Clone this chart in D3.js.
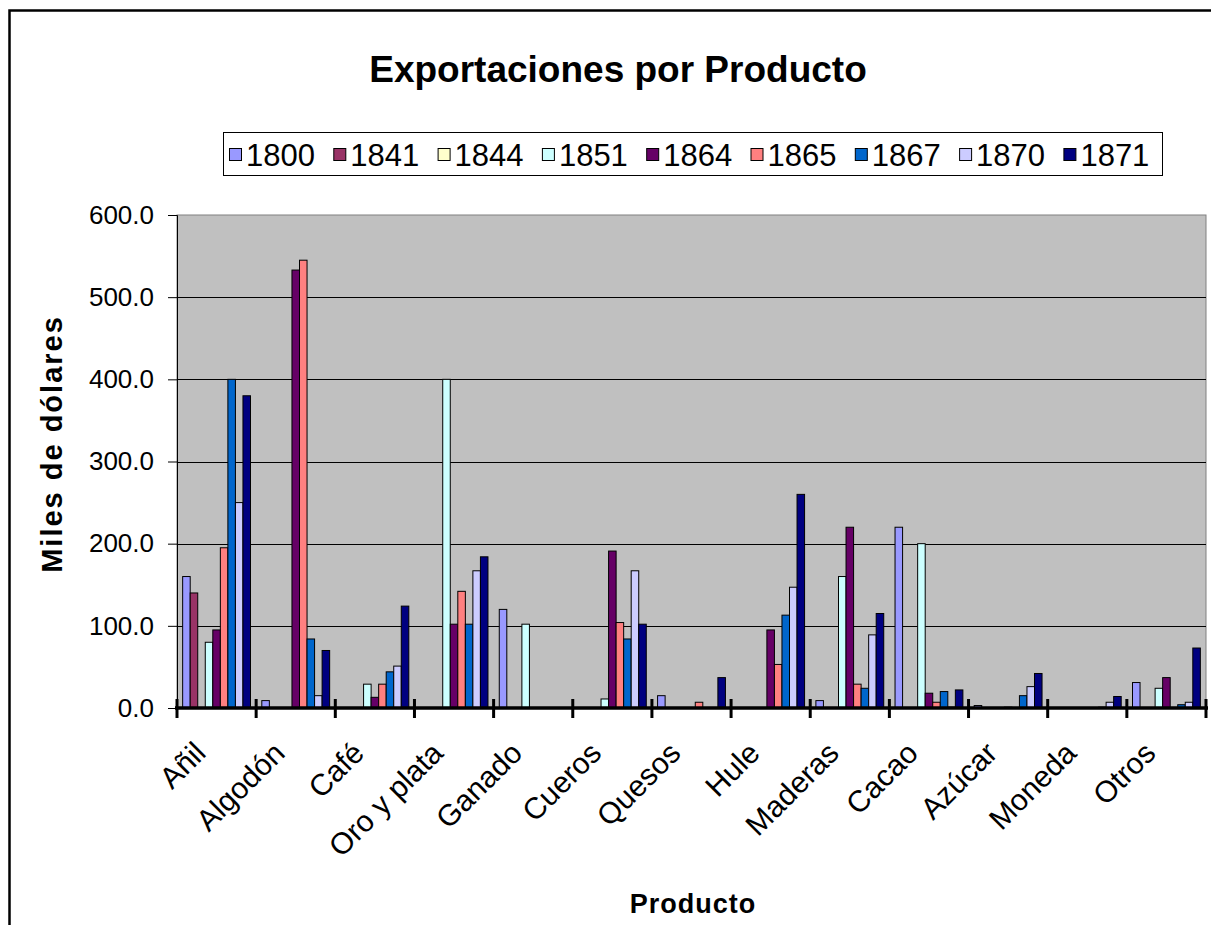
<!DOCTYPE html>
<html>
<head>
<meta charset="utf-8">
<script src="https://cdn.jsdelivr.net/npm/d3@7/dist/d3.min.js"></script>
<style>
  body { margin: 0; background: #fff; }
  text { font-family: Arial, "Liberation Sans", sans-serif; }
</style>
</head>
<body>
<div id="chart"></div>
<script>
const categories = ['Añil', 'Algodón', 'Café', 'Oro y plata', 'Ganado', 'Cueros', 'Quesos', 'Hule', 'Maderas', 'Cacao', 'Azúcar', 'Moneda', 'Otros']
const years = ['1800', '1841', '1844', '1851', '1864', '1865', '1867', '1870', '1871']

const v1800 = [160, 9, 0, 0, 120, 0, 15, 0, 9, 220, 3, 0, 31]
const v1841 = [140, 0, 0, 0, 0, 0, 0, 0, 0, 0, 0, 0, 0]
const v1844 = [0, 0, 0, 0, 0, 0, 0, 0, 0, 0, 0, 0, 0]
const v1851 = [80, 0, 29, 400, 102, 11, 0, 0, 160, 200, 0, 0, 24]
const v1864 = [95, 533, 13, 102, 0, 191, 0, 95, 220, 18, 1, 0, 37]
const v1865 = [195, 545, 29, 142, 0, 104, 7, 53, 29, 7, 0, 0, 0]
const v1867 = [400, 84, 44, 102, 0, 84, 0, 113, 24, 20, 15, 1, 4]
const v1870 = [250, 15, 51, 167, 0, 167, 0, 147, 89, 1, 26, 7, 7]
const v1871 = [380, 70, 124, 184, 0, 102, 37, 260, 115, 22, 42, 14, 73]

const yTicks = [0, 100, 200, 300, 400, 500, 600]
const colors = ['#9999FF', '#993366', '#FFFFCC', '#CCFFFF', '#660066', '#FF8080', '#0066CC', '#CCCCFF', '#000080']

const series = [v1800, v1841, v1844, v1851, v1864, v1865, v1867, v1870, v1871]

const W = 1211, H = 925
const pLeft = 177, pRight = 1206, pTop = 215, pBottom = 708

const svg = d3.select('#chart').append('svg')
    .attr('width', W)
    .attr('height', H)

// outer chart frame (runs off the right and bottom edge)
svg.append('rect')
    .attr('x', 9.5).attr('y', 10.5)
    .attr('width', 1300).attr('height', 1000)
    .attr('fill', '#fff')
    .attr('stroke', '#000')
    .attr('stroke-width', 2.5)

const x0 = d3.scaleBand().domain(categories).range([pLeft, pRight])
const x1 = d3.scaleBand().domain(years).range([0, x0.bandwidth()]).paddingOuter(0.75)
const y = d3.scaleLinear().domain([0, 600]).range([pBottom, pTop])

// plot area
svg.append('rect')
    .attr('x', pLeft).attr('y', pTop)
    .attr('width', pRight - pLeft).attr('height', pBottom - pTop)
    .attr('fill', '#C0C0C0')
    .attr('stroke', '#808080')

svg.append('g')
    .selectAll('line')
    .data(yTicks.filter(t => t > 0 && t < 600))
    .enter()
    .append('line')
    .attr('x1', pLeft).attr('x2', pRight)
    .attr('y1', d => Math.round(y(d)) + 0.5)
    .attr('y2', d => Math.round(y(d)) + 0.5)
    .attr('stroke', '#000')

// bars
var data = []
series.forEach((vals, s) => {
    vals.forEach((v, c) => {
        if (v > 0) data.push({cat: categories[c], year: years[s], v, color: colors[s]})
    })
})

svg.append('g')
    .selectAll('rect')
    .data(data)
    .enter()
    .append('rect')
    .attr('x', d => x0(d.cat) + x1(d.year))
    .attr('y', d => y(d.v))
    .attr('width', x1.bandwidth())
    .attr('height', d => y(0) - y(d.v))
    .attr('fill', d => d.color)
    .attr('stroke', '#000')
    .attr('stroke-width', 1)

// y axis
const yAxis = svg.append('g')
    .attr('transform', `translate(${pLeft},0)`)
    .call(d3.axisLeft(y).tickValues(yTicks).tickFormat(d3.format('.1f')).tickSize(9).tickPadding(14))
yAxis.select('.domain').attr('stroke', '#000')
yAxis.selectAll('text')
    .attr('font-size', 26)
    .attr('fill', '#000')
    .attr('font-family', 'Arial, "Liberation Sans", sans-serif')

// x axis: thick line with crossing ticks
svg.append('line')
    .attr('x1', pLeft - 2).attr('x2', pRight + 2)
    .attr('y1', pBottom).attr('y2', pBottom)
    .attr('stroke', '#000')
    .attr('stroke-width', 3.5)

const bounds = categories.map(c => x0(c)).concat([pRight])
svg.append('g')
    .selectAll('line')
    .data(bounds)
    .enter()
    .append('line')
    .attr('x1', d => d).attr('x2', d => d)
    .attr('y1', pBottom - 9).attr('y2', pBottom + 10)
    .attr('stroke', '#000')
    .attr('stroke-width', 3)

svg.append('g')
    .selectAll('text')
    .data(categories)
    .enter()
    .append('text')
    .attr('transform', d => `translate(${x0(d) + x0.bandwidth() / 2 - 24},${pBottom + 32}) rotate(-45)`)
    .attr('text-anchor', 'end')
    .attr('dy', '0.7em')
    .attr('font-size', 30)
    .text(d => d)

// titles
svg.append('text')
    .attr('x', 618).attr('y', 82)
    .attr('text-anchor', 'middle')
    .attr('font-size', 37)
    .attr('font-weight', 'bold')
    .text('Exportaciones por Producto')

svg.append('text')
    .attr('x', 693).attr('y', 913)
    .attr('text-anchor', 'middle')
    .attr('font-size', 27)
    .attr('font-weight', 'bold')
    .attr('letter-spacing', 1)
    .text('Producto')

svg.append('text')
    .attr('transform', 'translate(62,444) rotate(-90)')
    .attr('text-anchor', 'middle')
    .attr('font-size', 29)
    .attr('font-weight', 'bold')
    .attr('letter-spacing', 2)
    .text('Miles de dólares')

// legend
const legend = svg.append('g')
legend.append('rect')
    .attr('x', 223.5).attr('y', 132.5)
    .attr('width', 939).attr('height', 43)
    .attr('fill', '#fff')
    .attr('stroke', '#000')

const item = legend.selectAll('g')
    .data(years)
    .enter()
    .append('g')
    .attr('transform', (d, i) => `translate(${229 + i * 104.3},0)`)
item.append('rect')
    .attr('x', 0.5).attr('y', 148.5)
    .attr('width', 12).attr('height', 12)
    .attr('fill', (d, i) => colors[i])
    .attr('stroke', '#000')
item.append('text')
    .attr('x', 17).attr('y', 166)
    .attr('font-size', 31)
    .text(d => d)
</script>
</body>
</html>
